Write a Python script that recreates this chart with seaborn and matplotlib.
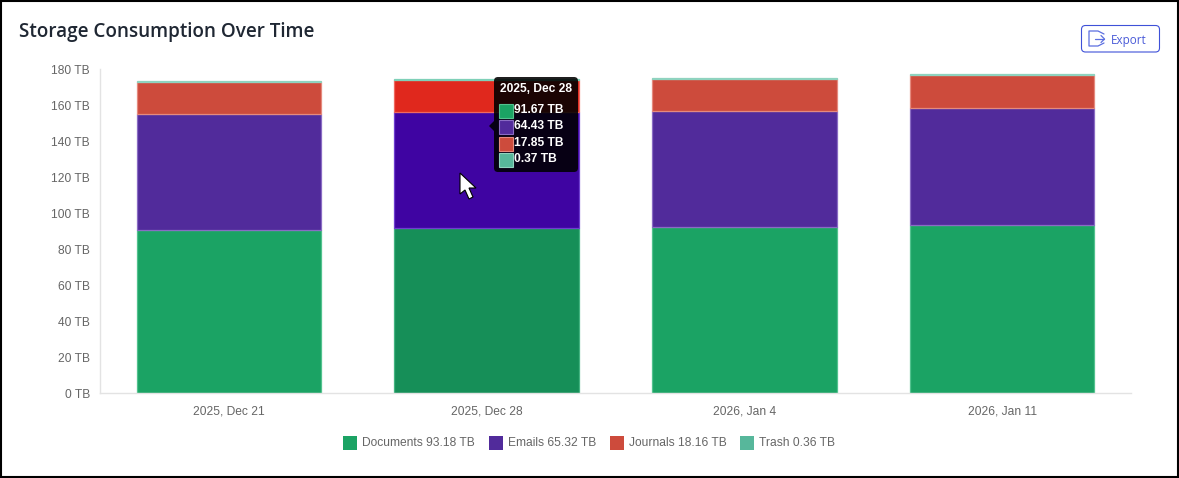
import numpy as np
import pandas as pd
import matplotlib; matplotlib.use("Agg")
import matplotlib.pyplot as plt
import seaborn as sns
from matplotlib.patches import FancyBboxPatch, Polygon, Rectangle

W = 1179; H = 478

weeks = ["2025, Dec 21", "2025, Dec 28", "2026, Jan 4", "2026, Jan 11"]
documents = [90.5, 91.67, 92.1, 93.18]
emails = [64.6, 64.43, 64.7, 65.32]
journals = [17.8, 17.85, 17.9, 18.16]
trash = [0.37, 0.37, 0.36, 0.36]
y_ticks = [0, 20, 40, 60, 80, 100, 120, 140, 160, 180]

series = ["Documents", "Emails", "Journals", "Trash"]
colors = ["#1ba364", "#512b9b", "#cd4b3c", "#57b79b"]
edges = ["#52c28e", "#8a6cc4", "#e58a7e", "#8fd3bf"]
hover = ["#168f58", "#3f04a2", "#e0281d", "#3fae8e"]
hover_edges = ["#44b481", "#6f3fd0", "#f0695f", "#7fd0b8"]
legend_vals = ["93.18 TB", "65.32 TB", "18.16 TB", "0.36 TB"]
tip_title = "2025, Dec 28"
tip_vals = ["91.67 TB", "64.43 TB", "17.85 TB", "0.37 TB"]
hover_week = "2025, Dec 28"

df = pd.DataFrame({"week": weeks, "Documents": documents, "Emails": emails,
                   "Journals": journals, "Trash": trash})

sns.set_theme(style="white")
plt.rcParams["font.family"] = ["Liberation Sans", "DejaVu Sans"]

fig = plt.figure(figsize=(W / 100, H / 100), dpi=100, facecolor="white")
ax = fig.add_axes([100 / W, (H - 393) / H, 1031 / W, 324 / H])

# stacked bars
bottom = np.zeros(len(weeks))
for name, c in zip(series, colors):
    sns.barplot(data=df, x="week", y=name, order=weeks, color=c, bottom=bottom,
                width=0.716, saturation=1, ax=ax)
    bottom = bottom + df[name].values

# one container per series, hovered week gets the darker colours
for s, cont in enumerate(ax.containers):
    for w, p in enumerate(cont):
        hot = weeks[w] == hover_week
        p.set_facecolor(hover[s] if hot else colors[s])
        p.set_edgecolor(hover_edges[s] if hot else edges[s])
        p.set_linewidth(0.9)

ax.set_ylim(0, 180); ax.set_xlim(-0.5, 3.5)
ax.set_yticks(y_ticks); ax.set_yticklabels([f"{v} TB" for v in y_ticks])
ax.set_xlabel(""); ax.set_ylabel("")
ax.tick_params(axis="both", length=0, labelsize=8.64, labelcolor="#666666")
ax.tick_params(axis="y", pad=7.2); ax.tick_params(axis="x", pad=9.3)
ax.grid(False)
for sp in ["top", "right"]:
    ax.spines[sp].set_visible(False)
for sp in ["left", "bottom"]:
    ax.spines[sp].set_color("#e3e3e3"); ax.spines[sp].set_linewidth(1)

# overlay in pixel coordinates for the page furniture
ov = fig.add_axes([0, 0, 1, 1], facecolor="none")
ov.set_xlim(0, W); ov.set_ylim(H, 0); ov.axis("off")

ov.text(19, 31.5, "Storage Consumption Over Time", fontsize=13.55, fontweight=600, color="#1f2733",
        family=["Open Sans", "DejaVu Sans"], va="center", ha="left")

# export button
ov.add_patch(FancyBboxPatch((1081.5, 25.5), 78, 26.5, boxstyle="round,pad=0,rounding_size=4",
                            fc="white", ec="#3f51d8", lw=0.8))
ov.plot([1104, 1098, 1089, 1089, 1098, 1104], [34, 31, 31, 46, 46, 43], color="#5c6fe0", lw=0.9)
ov.plot([1095, 1104], [39, 39], color="#5c6fe0", lw=0.9)
ov.plot([1101, 1104.5, 1101], [35.5, 39, 42.5], color="#5c6fe0", lw=0.9)
ov.text(1111, 40, "Export", fontsize=8.4, color="#4a5bd8", family=["Open Sans", "DejaVu Sans"],
        va="center", ha="left")

# legend
leg_x = [343, 489, 610, 740]
for x, name, v, c in zip(leg_x, series, legend_vals, colors):
    ov.add_patch(Rectangle((x, 436), 14, 14, fc=c, ec="none"))
    ov.text(x + 19, 442.5, f"{name} {v}", fontsize=8.64, color="#666666", va="center", ha="left")

# tooltip
tip_c = (0, 0, 0, 0.88)
ov.add_patch(FancyBboxPatch((494, 77), 84, 95, boxstyle="round,pad=0,rounding_size=4", fc=tip_c, ec="none"))
ov.add_patch(Polygon([(494, 121), (489, 126), (494, 131)], fc=tip_c, ec="none"))
ov.text(500, 89, tip_title, fontsize=8.64, fontweight="bold", color="white", va="center", ha="left")
for i, (v, c, e) in enumerate(zip(tip_vals, colors, edges)):
    y = 103.5 + i * 16.6
    ov.add_patch(Rectangle((499, y), 14, 14, fc=c, ec=e, lw=0.8))
    ov.text(514, y + 6, v, fontsize=8.64, fontweight="bold", color="white", va="center", ha="left")

# mouse cursor
ov.add_patch(Polygon([(460, 173), (460, 194), (465, 190), (469, 199), (473, 197), (469, 188), (476, 188)],
                     fc="white", ec="black", lw=0.8, joinstyle="miter"))

# screenshot border
ov.add_patch(Rectangle((1, 1), W - 2, H - 2, fc="none", ec="black", lw=1.5))

fig.savefig("out.png", dpi=100)
